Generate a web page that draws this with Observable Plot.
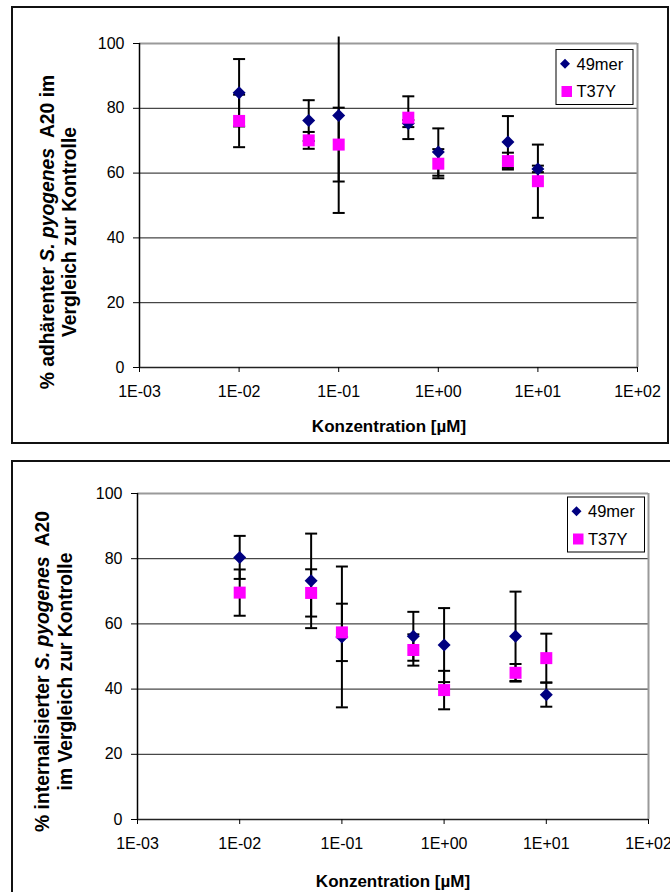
<!DOCTYPE html>
<html>
<head>
<meta charset="utf-8">
<script src="https://cdn.jsdelivr.net/npm/d3@7"></script>
<script src="https://cdn.jsdelivr.net/npm/@observablehq/plot@0.6"></script>
<style>
  html, body { margin: 0; padding: 0; background: #fff; }
  body { position: relative; width: 670px; height: 892px; overflow: hidden;
         font-family: "Liberation Sans", Arial, sans-serif; }
  .chart { position: absolute; left: 0; }
  #overlay { position: absolute; left: 0; top: 0; pointer-events: none; }
</style>
</head>
<body>
<div id="adhesion" class="chart" style="top:0px"></div>
<div id="internalisation" class="chart" style="top:455px"></div>
<svg id="overlay" width="670" height="892"></svg>
<script>
// Peptide concentrations (µM)
const conc = [0.01, 0.05, 0.1, 0.5, 1, 5, 10];
const seriesNames = ["49mer", "T37Y"];

// Adherent S. pyogenes A20 (% of control), mean and error
const adh49mer    = [84.8, 76.2, 77.8, 75.3, 66.5, 69.6, 61.3];
const adh49merErr = [10.4, 6.3, 30.1, 1.1, 7.3, 8.0, 1.0];
const adhT37Y     = [76.1, 70.1, 68.8, 77.1, 62.9, 63.7, 57.5];
const adhT37YErr  = [8.1, 2.6, 11.4, 6.6, 4.5, 2.6, 11.3];

// Internalised S. pyogenes A20 (% of control), mean and error
const int49mer    = [80.4, 73.2, 56.0, 56.2, 53.5, 56.2, 38.3];
const int49merErr = [6.6, 14.5, 21.6, 7.5, 11.35, 13.7, 3.7];
const intT37Y     = [69.6, 69.5, 57.4, 52.0, 39.7, 45.0, 49.5];
const intT37YErr  = [7.1, 7.25, 8.8, 4.8, 5.9, 2.7, 7.5];

// Axis ticks
const xTicks = [1e-3, 1e-2, 1e-1, 1, 10, 100];
const xTickLabels = ["1E-03", "1E-02", "1E-01", "1E+00", "1E+01", "1E+02"];
const yTicks = [0, 20, 40, 60, 80, 100];
const gridLines = [20, 40, 60, 80];

// Error bars are cut off slightly above the plotting area
const yClip = 102;

const FONT = '"Liberation Sans", Arial, sans-serif';

// Marker shapes; the radius passed by Plot sets the half-size in pixels
const half = size => Math.sqrt(size / Math.PI);
const capSymbol = { draw(ctx, size) { const w = half(size); ctx.moveTo(-w, 0); ctx.lineTo(w, 0); } };
const diamondSymbol = { draw(ctx, size) { const r = half(size);
  ctx.moveTo(0, -r); ctx.lineTo(r, 0); ctx.lineTo(0, r); ctx.lineTo(-r, 0); ctx.closePath(); } };
const squareSymbol = { draw(ctx, size) { const r = half(size);
  ctx.moveTo(-r, -r); ctx.lineTo(r, -r); ctx.lineTo(r, r); ctx.lineTo(-r, r); ctx.closePath(); } };

function toRows(means, errs, name) {
  return conc.map((c, i) => ({ conc: c, series: name, mean: means[i],
    lo: means[i] - errs[i], hi: means[i] + errs[i] }));
}

function chart(rowsA, rowsB, m) {
  const all = rowsA.concat(rowsB);
  const bars = all.map(d => ({ ...d, top: Math.min(d.hi, yClip) }));
  const caps = all.flatMap(d => d.hi <= yClip
    ? [{ conc: d.conc, y: d.lo }, { conc: d.conc, y: d.hi }]
    : [{ conc: d.conc, y: d.lo }]);
  return Plot.plot({
    width: 670, height: m.height,
    marginLeft: m.left, marginRight: m.right, marginTop: m.top, marginBottom: m.bottom,
    style: { background: "transparent", overflow: "visible", fontFamily: FONT, color: "#000" },
    x: { type: "log", domain: [1e-3, 1e2] },
    y: { domain: [0, 100] },
    marks: [
      Plot.ruleY(gridLines, { stroke: "#1a1a1a", strokeWidth: 1 }),
      Plot.ruleY([100], { stroke: "#9a9a9a", strokeWidth: 2 }),
      Plot.ruleX([100], { stroke: "#9a9a9a", strokeWidth: 2 }),
      Plot.ruleX([1e-3], { stroke: "#000", strokeWidth: 1.5 }),
      Plot.ruleY([0], { stroke: "#222", strokeWidth: 1.5 }),
      Plot.axisY(yTicks, { tickSize: 6, tickPadding: 9, fontSize: 16, label: null, stroke: "#000" }),
      Plot.axisX(xTicks, { tickSize: 5, tickPadding: 13, fontSize: 16, label: null, stroke: "#000",
        tickFormat: d => xTickLabels[xTicks.indexOf(d)] }),
      Plot.ruleX(bars, { x: "conc", y1: "lo", y2: "top", stroke: "#000", strokeWidth: 2 }),
      Plot.dot(caps, { x: "conc", y: "y", symbol: capSymbol, r: 6, stroke: "#000", strokeWidth: 2 }),
      Plot.dot(rowsA, { x: "conc", y: "mean", symbol: diamondSymbol, r: 6.5, fill: "#000080" }),
      Plot.dot(rowsB, { x: "conc", y: "mean", symbol: squareSymbol, r: 6, fill: "#ff00ff" })
    ]
  });
}

document.getElementById("adhesion").append(
  chart(toRows(adh49mer, adh49merErr, seriesNames[0]), toRows(adhT37Y, adhT37YErr, seriesNames[1]),
        { height: 445, left: 139, right: 33, top: 43, bottom: 78 }));
document.getElementById("internalisation").append(
  chart(toRows(int49mer, int49merErr, seriesNames[0]), toRows(intT37Y, intT37YErr, seriesNames[1]),
        { height: 437, left: 137, right: 22, top: 38, bottom: 73 }));

// Frames, axis titles and legends
const svg = d3.select("#overlay").style("font-family", FONT);

svg.append("rect").attr("x", 12).attr("y", 7).attr("width", 656).attr("height", 436)
  .attr("fill", "none").attr("stroke", "#111").attr("stroke-width", 2);
svg.append("rect").attr("x", 12).attr("y", 461).attr("width", 720).attr("height", 500)
  .attr("fill", "none").attr("stroke", "#111").attr("stroke-width", 2);

function xTitle(cx, baseline) {
  svg.append("text").attr("x", cx).attr("y", baseline).attr("text-anchor", "middle")
    .attr("font-weight", "bold").attr("font-size", 17).attr("fill", "#000")
    .text("Konzentration [µM]");
}
xTitle(389, 432);
xTitle(393, 887);

function yTitleLine(x, cy, parts) {
  const t = svg.append("text").attr("transform", `translate(${x},${cy}) rotate(-90)`)
    .attr("text-anchor", "middle").attr("font-weight", "bold").attr("font-size", 19.3)
    .attr("fill", "#000").style("white-space", "pre");
  parts.forEach(([s, italic]) => {
    const ts = t.append("tspan").text(s);
    if (italic) ts.attr("font-style", "italic");
  });
}
yTitleLine(53.5, 232, [["% adhärenter ", false], ["S. pyogenes", true], ["  A20 im", false]]);
yTitleLine(76, 232, [["Vergleich zur Kontrolle", false]]);
yTitleLine(49, 671.5, [["% internalisierter ", false], ["S. pyogenes", true], ["  A20", false]]);
yTitleLine(72, 671.5, [["im Vergleich zur Kontrolle", false]]);

function legend(x, y) {
  const g = svg.append("g").attr("transform", `translate(${x},${y})`);
  g.append("rect").attr("x", 0.5).attr("y", 0.5).attr("width", 77).attr("height", 55)
    .attr("fill", "#fff").attr("stroke", "#000").attr("stroke-width", 1);
  g.append("path").attr("d", "M9.5,9.7L14.5,14.7L9.5,19.7L4.5,14.7Z").attr("fill", "#000080");
  g.append("text").attr("x", 21).attr("y", 20.7).attr("font-size", 16.5).attr("fill", "#000").text(seriesNames[0]);
  g.append("rect").attr("x", 6).attr("y", 37).attr("width", 10.5).attr("height", 11).attr("fill", "#ff00ff");
  g.append("text").attr("x", 21).attr("y", 48).attr("font-size", 16.5).attr("fill", "#000").text(seriesNames[1]);
}
legend(555.5, 49);
legend(567, 496.5);
</script>
</body>
</html>
